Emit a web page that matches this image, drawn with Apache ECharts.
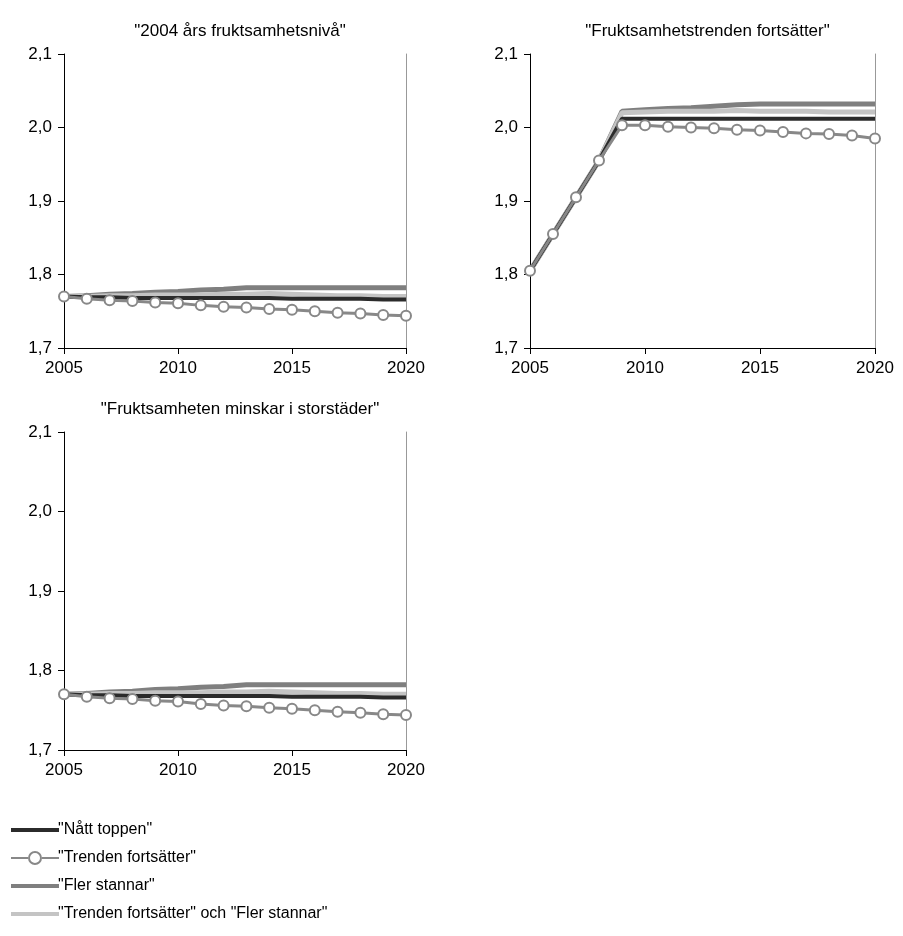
<!DOCTYPE html>
<html><head><meta charset="utf-8">
<script src="https://cdn.jsdelivr.net/npm/echarts@6/dist/echarts.min.js"></script>
<style>html,body{margin:0;background:#fff}#c{width:903px;height:936px}</style>
</head><body><div id="c"></div>
<script>
const years = [2005,2006,2007,2008,2009,2010,2011,2012,2013,2014,2015,2016,2017,2018,2019,2020];
const titles = ['"2004 års fruktsamhetsnivå"', '"Fruktsamhetstrenden fortsätter"', '"Fruktsamheten minskar i storstäder"'];
const names = ['"Nått toppen"', '"Trenden fortsätter"', '"Fler stannar"', '"Trenden fortsätter" och "Fler stannar"'];

const p1Natt  = [1.770,1.769,1.769,1.768,1.768,1.768,1.768,1.768,1.768,1.768,1.767,1.767,1.767,1.767,1.766,1.766];
const p1Trend = [1.770,1.767,1.765,1.764,1.762,1.761,1.758,1.756,1.755,1.753,1.752,1.750,1.748,1.747,1.745,1.744];
const p1Fler  = [1.770,1.771,1.773,1.774,1.776,1.777,1.779,1.780,1.782,1.782,1.782,1.782,1.782,1.782,1.782,1.782];
const p1Both  = [1.770,1.770,1.771,1.771,1.772,1.772,1.772,1.773,1.773,1.774,1.773,1.772,1.771,1.771,1.770,1.770];

const p2Natt  = [1.805,1.855,1.905,1.955,2.012,2.012,2.012,2.012,2.012,2.012,2.012,2.012,2.012,2.012,2.012,2.012];
const p2Trend = [1.805,1.855,1.905,1.955,2.003,2.003,2.001,2.000,1.999,1.997,1.996,1.994,1.992,1.991,1.989,1.985];
const p2Fler  = [1.805,1.855,1.905,1.955,2.022,2.024,2.026,2.027,2.029,2.031,2.032,2.032,2.032,2.032,2.032,2.032];
const p2Both  = [1.805,1.855,1.905,1.955,2.020,2.021,2.022,2.022,2.022,2.023,2.022,2.022,2.022,2.021,2.021,2.021];

const panels = [[p1Natt,p1Trend,p1Fler,p1Both],[p2Natt,p2Trend,p2Fler,p2Both],[p1Natt,p1Trend,p1Fler,p1Both]];
const grids = [
  {left:64, top:54, width:342, height:294},
  {left:530, top:54, width:345, height:294},
  {left:64, top:432, width:342, height:318}
];
const font = 'Liberation Sans, Arial, sans-serif';
const colors = ['#2b2b2b', '#888888', '#7f7f7f', '#c4c4c4'];
const widths = [4, 3, 5, 5];
const lineIcon = 'path://M0,0h48v4h-48z';
const ringIcon = 'path://M0,6h17v2h-17z M31,6h17v2h-17z M31,7A7,7 0 1 0 17,7A7,7 0 1 0 31,7Z M29,7A5,5 0 1 1 19,7A5,5 0 1 1 29,7Z';

const xAxis = [], yAxis = [], series = [], titleArr = [];
grids.forEach((g, i) => {
  titleArr.push({text: titles[i], left: g.left + g.width/2, top: g.top - 36, textAlign: 'center',
    textStyle: {fontFamily: font, fontSize: 17, fontWeight: 'normal', color: '#000'}});
  xAxis.push({type:'value', gridIndex:i, min:2005, max:2020, interval:5,
    axisLine:{lineStyle:{color:'#000'}}, axisTick:{inside:false, length:6, lineStyle:{color:'#000'}},
    axisLabel:{fontFamily:font, fontSize:17, color:'#000', margin:12, formatter: v => String(v)},
    splitLine:{show:false}});
  yAxis.push({type:'value', gridIndex:i, min:1.7, max:2.1, interval:0.1,
    axisLine:{show:true, lineStyle:{color:'#000'}}, axisTick:{show:true, length:6, lineStyle:{color:'#000'}},
    axisLabel:{fontFamily:font, fontSize:17, color:'#000', margin:12, formatter: v => v.toFixed(1).replace('.', ',')},
    splitLine:{show:false}});
  yAxis.push({type:'value', gridIndex:i, position:'right', min:1.7, max:2.1, interval:0.1,
    axisLine:{show:true, lineStyle:{color:'#999'}}, axisTick:{show:false}, axisLabel:{show:false},
    splitLine:{show:false}});
  // draw order: Fler, Both, Natt, Trend (trend on top)
  [2,3,0,1].forEach(k => {
    series.push({name:names[k], type:'line', xAxisIndex:i, yAxisIndex:i*2, z: k===1 ? 5 : 3,
      data: years.map((y, j) => [y, panels[i][k][j]]),
      symbol: k===1 ? 'circle' : 'none', symbolSize: 10, showSymbol: k===1,
      itemStyle:{color:'#fff', borderColor: colors[k], borderWidth: 2},
      lineStyle:{color: colors[k], width: widths[k]}, animation:false});
  });
});
const chart = echarts.init(document.getElementById('c'));
chart.setOption({
  title: titleArr,
  grid: grids,
  xAxis, yAxis, series,
  legend: {orient:'vertical', left:6, top:817, itemGap:12, itemWidth:48, itemHeight:14,
    data: names.map((n, k) => ({name:n, icon: k===1 ? ringIcon : lineIcon,
      itemStyle:{color: colors[k], borderWidth:0}})),
    textStyle:{fontFamily:font, fontSize:16, color:'#000', padding:[0,0,0,-6]}}
});
</script></body></html>
